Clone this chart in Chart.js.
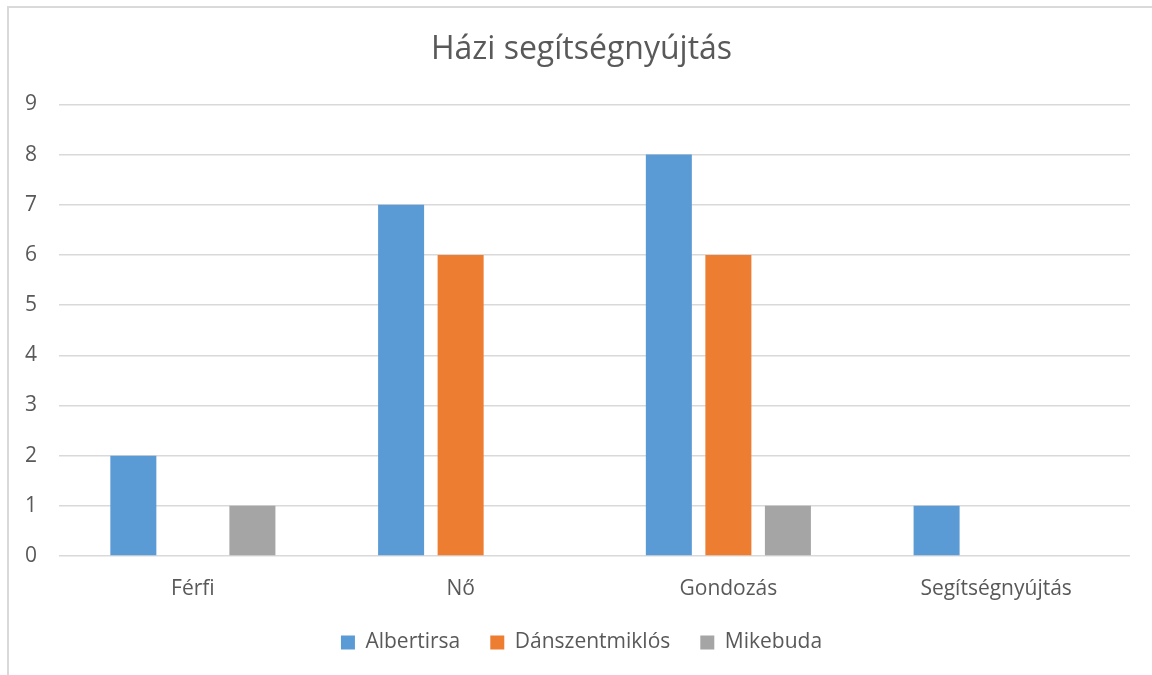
<!DOCTYPE html>
<html>
<head>
<meta charset="utf-8">
<script src="https://cdn.jsdelivr.net/npm/chart.js@4"></script>
<style>
  html, body { margin: 0; padding: 0; background: #fff; }
  #wrap { position: relative; width: 1152px; height: 675px; }
  #frame { position: absolute; left: 7px; top: 6px; right: -2px; bottom: -2px; border: 2px solid #d9d9d9; }
  canvas { position: absolute; left: 0; top: 0; }
</style>
</head>
<body>
<div id="wrap">
  <div id="frame"></div>
  <canvas id="qualityChart" width="1152" height="675"></canvas>
</div>
<script>
// categories and series
const categories = ['Férfi', 'Nő', 'Gondozás', 'Segítségnyújtás'];
const albertirsa = [2, 7, 8, 1];
const danszentmiklos = [0, 6, 6, 0];
const mikebuda = [1, 0, 1, 0];
const yTicks = [0, 1, 2, 3, 4, 5, 6, 7, 8, 9];

const font = "'Open Sans', 'Noto Sans', sans-serif";
const textColor = '#595959';

const ctx = document.getElementById('qualityChart');
new Chart(ctx, {
  type: 'bar',
  data: {
    labels: categories,
    datasets: [
      { label: 'Albertirsa', data: albertirsa, backgroundColor: '#5b9bd5' },
      { label: 'Dánszentmiklós', data: danszentmiklos, backgroundColor: '#ed7d31' },
      { label: 'Mikebuda', data: mikebuda, backgroundColor: '#a5a5a5' }
    ]
  },
  options: {
    responsive: false,
    animation: false,
    datasets: { bar: { categoryPercentage: 0.667, barPercentage: 0.773 } },
    layout: { padding: { left: 20, right: 9, top: 31, bottom: 12 } },
    plugins: {
      title: {
        display: true,
        text: 'Házi segítségnyújtás',
        color: textColor,
        font: { family: font, size: 32, weight: 'normal' },
        padding: { top: 0, bottom: 35 }
      },
      legend: {
        position: 'bottom',
        labels: {
          color: textColor,
          font: { family: font, size: 21 },
          boxWidth: 14,
          boxHeight: 14,
          padding: 30
        }
      },
      tooltip: { enabled: false }
    },
    scales: {
      x: {
        grid: { display: false },
        border: { display: false },
        afterFit: (scale) => { scale.height = 46; },
        ticks: { color: textColor, font: { family: font, size: 21 }, padding: 12 }
      },
      y: {
        min: 0,
        max: 9,
        afterBuildTicks: (scale) => { scale.ticks = yTicks.map(v => ({ value: v })); },
        afterFit: (scale) => { scale.width = 39; },
        grid: { color: '#d9d9d9', lineWidth: 1.5, drawTicks: false },
        border: { display: false },
        ticks: { color: textColor, font: { family: font, size: 21 }, padding: 22 }
      },
      // empty right axis, only keeps the plot edge at the same place
      yRight: {
        position: 'right',
        afterFit: (scale) => { scale.width = 13; },
        grid: { display: false },
        border: { display: false },
        ticks: { display: false }
      }
    }
  }
});
</script>
</body>
</html>
